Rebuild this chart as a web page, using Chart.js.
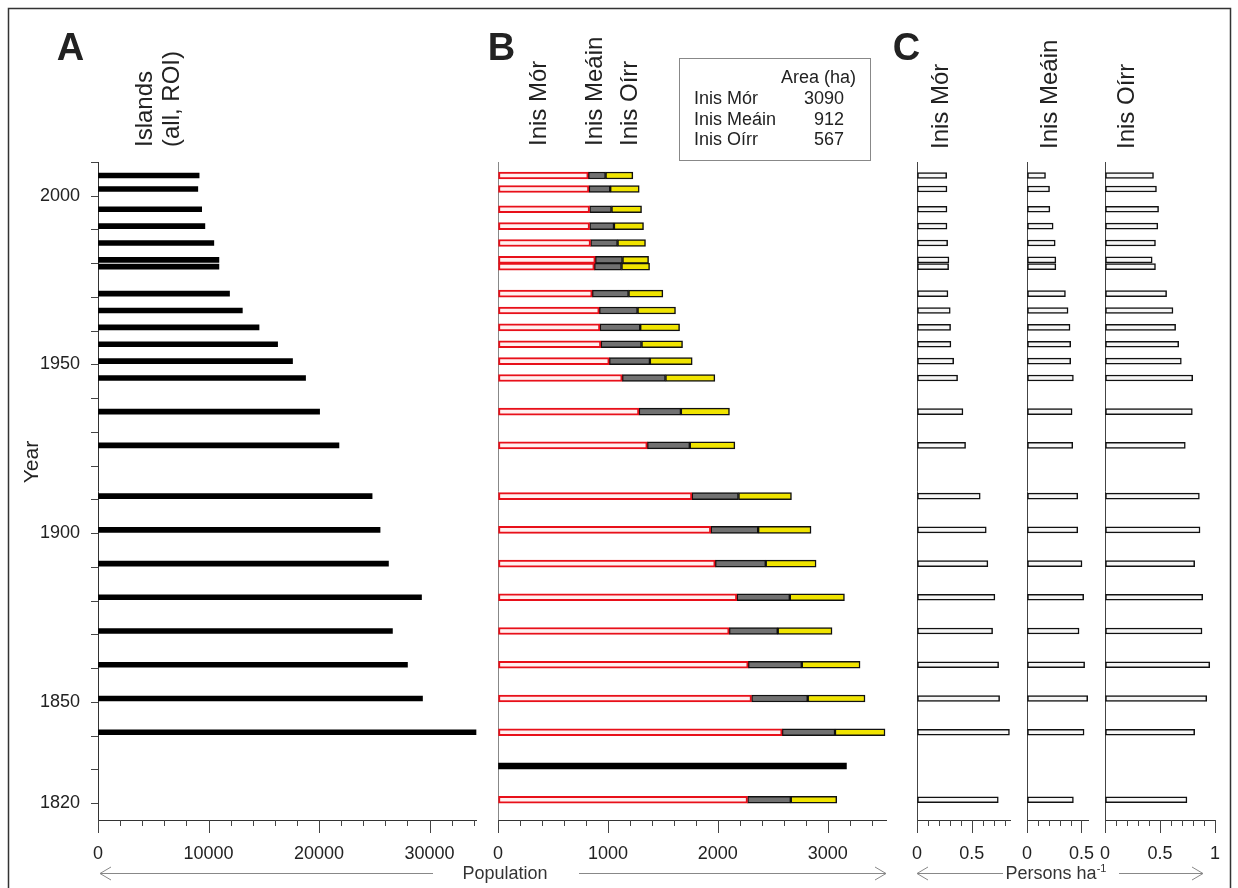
<!DOCTYPE html>
<html>
<head>
<meta charset="utf-8">
<script src="https://cdn.jsdelivr.net/npm/chart.js"></script>
<style>
  body { margin: 0; background: #fff; }
  #wrap { position: relative; width: 1238px; height: 888px; overflow: hidden; font-family: "Liberation Sans", Arial, sans-serif; }
  canvas { position: absolute; top: 0; }
  svg { position: absolute; left: 0; top: 0; }
  svg text { font-family: "Liberation Sans", Arial, sans-serif; fill: #222; }
</style>
</head>
<body>
<div id="wrap">
  <canvas id="cA" width="490" height="888" style="left:0px"></canvas>
  <canvas id="cB" width="410" height="888" style="left:485px"></canvas>
  <canvas id="cC1" width="122" height="888" style="left:900px"></canvas>
  <canvas id="cC2" width="80" height="888" style="left:1015px"></canvas>
  <canvas id="cC3" width="143" height="888" style="left:1095px"></canvas>
  <svg id="over" width="1238" height="888">
    <path d="M8.5,888 V8.5 H1230.5 V888" fill="none" stroke="#333" stroke-width="1.5"/>
    <text x="70.5" y="60" font-size="38" font-weight="bold" text-anchor="middle">A</text>
    <text x="501.5" y="60" font-size="38" font-weight="bold" text-anchor="middle">B</text>
    <text x="906.5" y="60" font-size="38" font-weight="bold" text-anchor="middle">C</text>

    <text transform="translate(152,147) rotate(-90)" font-size="24">Islands</text>
    <text transform="translate(179,147) rotate(-90)" font-size="24">(all, ROI)</text>
    <text transform="translate(546,146) rotate(-90)" font-size="24">Inis Mór</text>
    <text transform="translate(602,146) rotate(-90)" font-size="24">Inis Meáin</text>
    <text transform="translate(637,146) rotate(-90)" font-size="24">Inis Oírr</text>
    <text transform="translate(948,149) rotate(-90)" font-size="24">Inis Mór</text>
    <text transform="translate(1057,149) rotate(-90)" font-size="24">Inis Meáin</text>
    <text transform="translate(1134,149) rotate(-90)" font-size="24">Inis Oírr</text>

    <text transform="translate(38,462) rotate(-90)" font-size="21" text-anchor="middle">Year</text>

    <rect x="679.5" y="58.5" width="191" height="102" fill="none" stroke="#888" stroke-width="1"/>
    <g id="areaTable" font-size="18"></g>

    <g stroke="#888" stroke-width="1" fill="none">
      <line x1="100" y1="873.5" x2="433" y2="873.5"/>
      <polyline points="111,867 100,873.5 111,880"/>
      <line x1="579" y1="873.5" x2="886" y2="873.5"/>
      <polyline points="875,867 886,873.5 875,880"/>
      <line x1="917" y1="873.5" x2="1003" y2="873.5"/>
      <polyline points="928,867 917,873.5 928,880"/>
      <line x1="1119" y1="873.5" x2="1203" y2="873.5"/>
      <polyline points="1192,867 1203,873.5 1192,880"/>
    </g>
    <text x="505" y="879" font-size="18" text-anchor="middle" style="fill:#333">Population</text>
    <text x="1056" y="879" font-size="18" text-anchor="middle" style="fill:#333">Persons ha<tspan dy="-7" font-size="11">-1</tspan></text>
  </svg>
</div>
<script>
  // census years
  const years = [2006, 2002, 1996, 1991, 1986, 1981, 1979, 1971, 1966, 1961, 1956, 1951, 1946,
                 1936, 1926, 1911, 1901, 1891, 1881, 1871, 1861, 1851, 1841, 1831, 1821];

  // A: all islands, ROI
  const islandsROI = [9150, 9030, 9380, 9670, 10480, 10940, 10940, 11900, 13060, 14570, 16250, 17600, 18780,
                      20050, 21800, 24800, 25520, 26280, 29270, 26640, 28000, 29360, 34200, null, null];

  // B: population per island
  const popMor   = [821, 827, 833, 833, 842, 885, 876, 857, 921, 927, 936, 1012, 1130,
                    1282, 1358, 1764, 1936, 1976, 2173, 2103, 2276, 2306, 2585, null, 2270];
  const popMeain = [158, 194, 200, 222, 246, 248, 248, 331, 349, 367, 370, 370, 394,
                    382, 387, 424, 431, 460, 482, 442, 488, 512, 481, null, 394];
  const popOirr  = [248, 264, 273, 269, 254, 237, 255, 312, 345, 358, 373, 385, 449,
                    442, 410, 482, 481, 458, 497, 494, 530, 521, 455, null, 418];
  const totalOnlyYears = [1831];
  const totalOnlyPop = [3170];

  // C: persons per ha
  const densMor   = [0.271, 0.274, 0.274, 0.274, 0.28, 0.292, 0.289, 0.283, 0.304, 0.307, 0.31, 0.335, 0.371,
                     0.42, 0.444, 0.578, 0.633, 0.648, 0.712, 0.691, 0.746, 0.755, 0.845, null, 0.743];
  const densMeain = [0.17, 0.207, 0.21, 0.24, 0.259, 0.265, 0.265, 0.353, 0.377, 0.395, 0.401, 0.401, 0.426,
                     0.414, 0.42, 0.466, 0.466, 0.505, 0.52, 0.478, 0.529, 0.557, 0.524, null, 0.426];
  const densOirr  = [0.441, 0.468, 0.487, 0.48, 0.459, 0.429, 0.459, 0.56, 0.618, 0.642, 0.67, 0.694, 0.797,
                     0.794, 0.73, 0.858, 0.864, 0.815, 0.888, 0.882, 0.952, 0.925, 0.815, null, 0.745];

  // area table
  const islandNames = ['Inis Mór', 'Inis Meáin', 'Inis Oírr'];
  const areaHa = [3090, 912, 567];

  // tick labels
  const yearLabels = [2000, 1950, 1900, 1850, 1820];
  const popLabelsA = [0, 10000, 20000, 30000];
  const popLabelsB = [0, 1000, 2000, 3000];
  const densLabels = [0, 0.5, 1];

  const FONT = '"Liberation Sans", Arial, sans-serif';
  Chart.defaults.font.family = FONT;

  // area table text
  const tbl = document.getElementById('areaTable');
  const NS = 'http://www.w3.org/2000/svg';
  function svgText(x, y, s, anchor) {
    const t = document.createElementNS(NS, 'text');
    t.setAttribute('x', x); t.setAttribute('y', y);
    if (anchor) t.setAttribute('text-anchor', anchor);
    t.textContent = s;
    tbl.appendChild(t);
  }
  svgText(856, 83, 'Area (ha)', 'end');
  islandNames.forEach((n, i) => {
    svgText(694, 104 + i * 20.5, n);
    svgText(844, 104 + i * 20.5, String(areaHa[i]), 'end');
  });

  function pts(vals) {
    return years.map((y, i) => vals[i] == null ? null : {x: vals[i], y: y}).filter(p => p);
  }
  const isIn = (arr, v) => arr.some(m => Math.abs(m - v) < 1e-6);

  // tick marks: long at labelled values, short at every minor step
  const tickMarks = {
    id: 'tickMarks',
    afterDraw(chart, args, o) {
      const ctx = chart.ctx;
      ctx.save();
      ctx.strokeStyle = '#444';
      ctx.lineWidth = 1;
      const xs = chart.scales.x;
      const n = Math.floor((xs.max - xs.min) / o.minor + 1e-6);
      const y0 = Math.round(xs.top);
      for (let i = 0; i <= n; i++) {
        const v = xs.min + i * o.minor;
        const px = Math.round(xs.getPixelForValue(v)) + 0.5;
        const len = isIn(o.majors, v) ? 13 : 6;
        ctx.beginPath();
        ctx.moveTo(px, y0);
        ctx.lineTo(px, y0 + len);
        ctx.stroke();
      }
      if (o.yMinor) {
        const ys = chart.scales.y;
        const x0 = Math.round(ys.right);
        for (let v = Math.ceil(ys.min / o.yMinor) * o.yMinor; v <= ys.max; v += o.yMinor) {
          const py = Math.round(ys.getPixelForValue(v)) + 0.5;
          ctx.beginPath();
          ctx.moveTo(x0, py);
          ctx.lineTo(x0 - 7, py);
          ctx.stroke();
        }
      }
      ctx.restore();
    }
  };

  function xScale(max, majors, stacked) {
    return {
      type: 'linear', min: 0, max: max, stacked: stacked,
      grid: {display: true, drawOnChartArea: false, drawTicks: true, tickLength: 23,
             color: 'rgba(0,0,0,0)', tickColor: 'rgba(0,0,0,0)'},
      border: {display: true, color: '#333', width: 1},
      ticks: {
        autoSkip: false, maxRotation: 0, padding: 0, color: '#222', font: {size: 18},
        callback: v => String(v)
      },
      afterBuildTicks: s => { s.ticks = majors.filter(v => v <= max + 1e-6).map(v => ({value: v})); },
      afterFit: s => { s.height = 68; }
    };
  }

  function yScale(width, color, labels, stacked) {
    const sc = {
      type: 'linear', min: 1815, max: 2010, offset: false, stacked: stacked,
      grid: {display: false, drawTicks: false, offset: false},
      border: {display: true, color: color, width: 1},
      ticks: {display: false},
      afterFit: s => { s.width = width; }
    };
    if (labels) {
      sc.ticks = {autoSkip: false, padding: 18, color: '#222', font: {size: 18}, callback: v => String(v)};
      sc.afterBuildTicks = s => { s.ticks = labels.map(v => ({value: v})); };
    }
    return sc;
  }

  function baseOptions(padRight, xs, ys, marks) {
    return {
      responsive: false, animation: false, indexAxis: 'y',
      layout: {padding: {top: 162, right: padRight, bottom: 0, left: 0}},
      plugins: {legend: {display: false}, tooltip: {enabled: false}, tickMarks: marks},
      scales: {x: xs, y: ys}
    };
  }

  // A
  new Chart(document.getElementById('cA'), {
    type: 'bar',
    data: {datasets: [{
      data: pts(islandsROI), backgroundColor: '#000', borderWidth: 0, barThickness: 5, clip: false
    }]},
    options: baseOptions(14, xScale(34200, popLabelsA), yScale(98, '#333', yearLabels),
                         {majors: popLabelsA, minor: 2000, yMinor: 10}),
    plugins: [tickMarks]
  });

  // B
  new Chart(document.getElementById('cB'), {
    type: 'bar',
    data: {datasets: [
      {label: 'Inis Mór', data: pts(popMor), backgroundColor: '#fff0f0', borderColor: '#e8101a',
       borderWidth: 2, borderSkipped: false, barThickness: 7, clip: false},
      {label: 'Inis Meáin', data: pts(popMeain), backgroundColor: '#717171', borderColor: '#111',
       borderWidth: 1.5, borderSkipped: false, barThickness: 7, clip: false},
      {label: 'Inis Oírr', data: pts(popOirr), backgroundColor: '#f0e400', borderColor: '#111',
       borderWidth: 1.5, borderSkipped: false, barThickness: 7, clip: false},
      {label: 'Total', data: totalOnlyYears.map((y, i) => ({x: totalOnlyPop[i], y: y})),
       backgroundColor: '#000', borderWidth: 0, barThickness: 6}
    ]},
    options: baseOptions(9, xScale(3530, popLabelsB, true), yScale(13, '#888', null, true),
                         {majors: popLabelsB, minor: 200}),
    plugins: [tickMarks]
  });

  // C
  function densChart(id, vals, max, yWidth, padRight) {
    new Chart(document.getElementById(id), {
      type: 'bar',
      data: {datasets: [{
        data: pts(vals), backgroundColor: '#f6f6f6', borderColor: '#111',
        borderWidth: 1.5, borderSkipped: false, barThickness: 6, clip: false
      }]},
      options: baseOptions(padRight, xScale(max, densLabels), yScale(yWidth, '#444'),
                           {majors: densLabels, minor: 0.1}),
      plugins: [tickMarks]
    });
  }
  densChart('cC1', densMor, 0.85, 17, 12);
  densChart('cC2', densMeain, 0.56, 12, 7);
  densChart('cC3', densOirr, 1.0, 10, 23);
</script>
</body>
</html>
